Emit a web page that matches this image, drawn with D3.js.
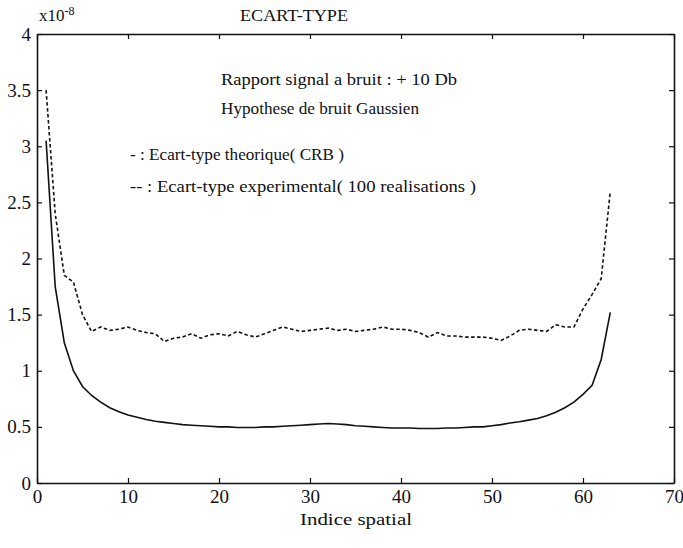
<!DOCTYPE html>
<html>
<head>
<meta charset="utf-8">
<script src="https://cdn.jsdelivr.net/npm/d3@7"></script>
<style>
  body { margin: 0; background: #fff; }
  svg, svg text, svg .tick text { font-family: 'Liberation Serif', 'DejaVu Serif', serif !important; }
</style>
</head>
<body>
<div id="chart"></div>
<script>
// Spatial index 1..63
const indices = d3.range(1, 64);

// Theoretical std dev (CRB), units of 1e-8 -- solid line
const crbValues = [
  3.05, 1.75, 1.25, 1.00, 0.86, 0.78, 0.72, 0.67, 0.635, 0.605,
  0.585, 0.565, 0.55, 0.54, 0.53, 0.52, 0.515, 0.51, 0.505, 0.50,
  0.50, 0.495, 0.495, 0.495, 0.50, 0.50, 0.505, 0.51, 0.515, 0.52,
  0.525, 0.53, 0.525, 0.52, 0.51, 0.505, 0.50, 0.495, 0.49, 0.49,
  0.49, 0.485, 0.485, 0.485, 0.49, 0.49, 0.495, 0.50, 0.50, 0.51,
  0.52, 0.535, 0.545, 0.56, 0.575, 0.60, 0.63, 0.67, 0.72, 0.79,
  0.87, 1.10, 1.52
];

// Experimental std dev (100 realisations) -- dashed line
const expValues = [
  3.50, 2.40, 1.85, 1.79, 1.50, 1.35, 1.39, 1.36, 1.37, 1.39,
  1.36, 1.34, 1.33, 1.26, 1.29, 1.30, 1.33, 1.29, 1.32, 1.33,
  1.31, 1.35, 1.32, 1.30, 1.33, 1.36, 1.39, 1.37, 1.35, 1.36,
  1.37, 1.38, 1.36, 1.37, 1.35, 1.36, 1.37, 1.39, 1.37, 1.37,
  1.36, 1.34, 1.30, 1.34, 1.31, 1.31, 1.30, 1.30, 1.30, 1.29,
  1.27, 1.31, 1.36, 1.37, 1.36, 1.35, 1.41, 1.39, 1.39, 1.55,
  1.68, 1.82, 2.60
];

const xTicks = [0, 10, 20, 30, 40, 50, 60, 70];
const yTicks = [0, 0.5, 1, 1.5, 2, 2.5, 3, 3.5, 4];

const legendLines = [
  "Rapport signal a bruit : + 10 Db",
  "Hypothese de bruit Gaussien",
  "- : Ecart-type theorique( CRB )",
  "-- : Ecart-type experimental( 100 realisations )"
];

const W = 683, H = 548;
const margin = { top: 34, right: 9, bottom: 65, left: 37 };
const width = W - margin.left - margin.right;
const height = H - margin.top - margin.bottom;

const svg = d3.select('#chart').append('svg')
    .attr('width', W)
    .attr('height', H);

const g = svg.append('g')
    .attr('transform', `translate(${margin.left},${margin.top})`);

const x = d3.scaleLinear().domain([0, 70]).range([0, width]);
const y = d3.scaleLinear().domain([0, 4]).range([height, 0]);

// Frame with inward ticks on all four sides (matlab style)
const tickLen = 5;
const fmt = d => String(d);
g.append('g')
    .attr('transform', `translate(0,${height})`)
    .call(d3.axisBottom(x).tickValues(xTicks).tickSizeInner(-tickLen).tickSizeOuter(0).tickPadding(7).tickFormat(fmt));
g.append('g')
    .call(d3.axisTop(x).tickValues(xTicks).tickSizeInner(-tickLen).tickSizeOuter(0).tickFormat(''));
g.append('g')
    .call(d3.axisLeft(y).tickValues(yTicks).tickSizeInner(-tickLen).tickSizeOuter(0).tickPadding(6).tickFormat(fmt));
g.append('g')
    .attr('transform', `translate(${width},0)`)
    .call(d3.axisRight(y).tickValues(yTicks).tickSizeInner(-tickLen).tickSizeOuter(0).tickFormat(''));

g.selectAll('g').attr('font-size', 19);
g.selectAll('.tick text').attr('fill', '#111');
g.selectAll('.domain').attr('stroke', '#111').attr('stroke-width', 1.6);
g.selectAll('.tick line').attr('stroke', '#111').attr('stroke-width', 1.2);

// Curves
const line = d3.line()
    .x((d, i) => x(indices[i]))
    .y(d => y(d));

g.append('path')
    .datum(crbValues)
    .attr('d', line)
    .attr('fill', 'none')
    .attr('stroke', '#111')
    .attr('stroke-width', 1.6);

g.append('path')
    .datum(expValues)
    .attr('d', line)
    .attr('fill', 'none')
    .attr('stroke', '#111')
    .attr('stroke-width', 1.6)
    .attr('stroke-dasharray', '3.5,2.5');

// Title and exponent
svg.append('text')
    .attr('x', 240)
    .attr('y', 21)
    .attr('fill', '#111')
    .attr('textLength', 108)
    .attr('lengthAdjust', 'spacingAndGlyphs')
    .style('font-size', '17px')
    .text('ECART-TYPE');

const expo = svg.append('text')
    .attr('x', 39)
    .attr('y', 21)
    .attr('fill', '#111')
    .style('font-size', '17px');
expo.append('tspan').text('x10');
expo.append('tspan')
    .attr('dy', -6)
    .style('font-size', '12px')
    .text('-8');

// Annotation block (widths follow the scanned figure)
const legendPos = [
  { x: 221, y: 85, w: 236 },
  { x: 221, y: 114, w: 198 },
  { x: 130, y: 160, w: 214 },
  { x: 130, y: 192, w: 346 }
];
svg.selectAll('.note')
    .data(legendLines)
    .enter()
    .append('text')
    .attr('class', 'note')
    .attr('x', (d, i) => legendPos[i].x)
    .attr('y', (d, i) => legendPos[i].y)
    .attr('textLength', (d, i) => legendPos[i].w)
    .attr('lengthAdjust', 'spacingAndGlyphs')
    .attr('fill', '#111')
    .style('font-size', '17px')
    .text(d => d);

// X axis label
svg.append('text')
    .attr('x', 300)
    .attr('y', 525)
    .attr('textLength', 112)
    .attr('lengthAdjust', 'spacingAndGlyphs')
    .attr('fill', '#111')
    .style('font-size', '17px')
    .text('Indice spatial');
</script>
</body>
</html>
